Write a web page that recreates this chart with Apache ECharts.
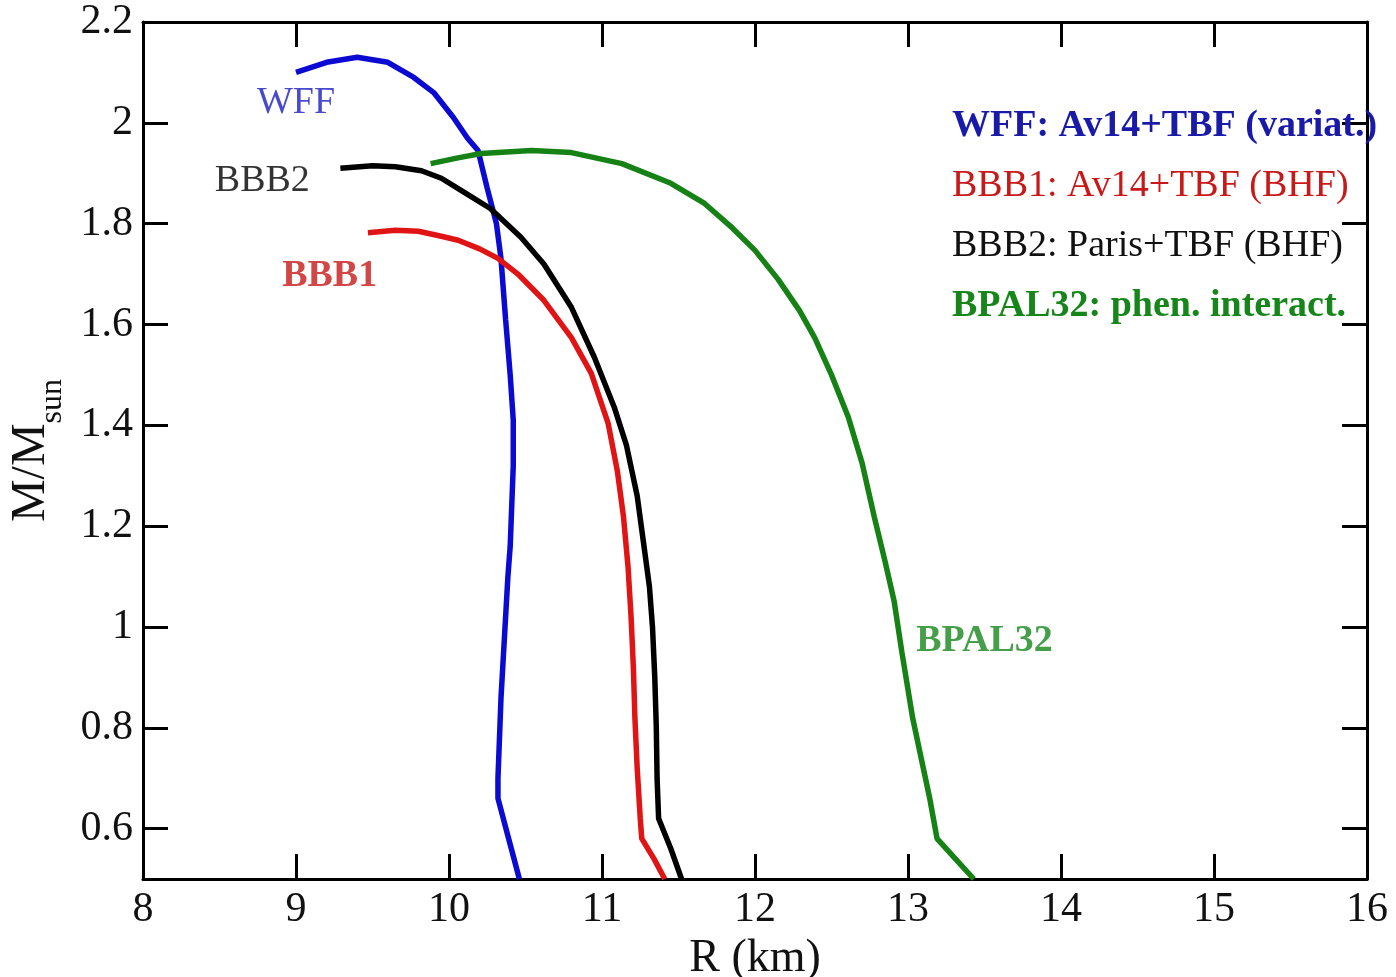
<!DOCTYPE html>
<html>
<head>
<meta charset="utf-8">
<script src="https://cdn.jsdelivr.net/npm/echarts@6/dist/echarts.min.js"></script>
<style>
  html, body { margin: 0; padding: 0; background: #fff; }
  #chart { width: 1396px; height: 977px; }
</style>
</head>
<body>
<div id="chart"></div>
<script>
// mass-radius curves, [R (km), M/Msun]
var wff = [[9.00, 2.10], [9.20, 2.12], [9.40, 2.13], [9.60, 2.12], [9.77, 2.09], [9.90, 2.06], [10.03, 2.01],
  [10.12, 1.97], [10.19, 1.945], [10.25, 1.87], [10.31, 1.80], [10.34, 1.73], [10.37, 1.61], [10.40, 1.50],
  [10.42, 1.41], [10.42, 1.32], [10.41, 1.24], [10.40, 1.16], [10.385, 1.10], [10.37, 1.02], [10.355, 0.94],
  [10.34, 0.86], [10.33, 0.78], [10.32, 0.70], [10.32, 0.66], [10.39, 0.58], [10.46, 0.50]];
var bbb1 = [[9.47, 1.782], [9.65, 1.787], [9.80, 1.785], [9.95, 1.775], [10.06, 1.767], [10.20, 1.75],
  [10.32, 1.731], [10.45, 1.70], [10.62, 1.648], [10.80, 1.574], [10.93, 1.503], [11.04, 1.404], [11.10, 1.31],
  [11.14, 1.22], [11.17, 1.12], [11.19, 1.02], [11.205, 0.92], [11.215, 0.82], [11.23, 0.72], [11.25, 0.62],
  [11.26, 0.58], [11.34, 0.54], [11.41, 0.50]];
var bbb2 = [[9.29, 1.91], [9.50, 1.915], [9.65, 1.913], [9.82, 1.905], [9.95, 1.89], [10.10, 1.862],
  [10.27, 1.83], [10.47, 1.773], [10.62, 1.72], [10.80, 1.634], [10.95, 1.535], [11.08, 1.436], [11.16, 1.36],
  [11.23, 1.26], [11.27, 1.17], [11.31, 1.08], [11.33, 1.00], [11.345, 0.90], [11.355, 0.80], [11.36, 0.70],
  [11.37, 0.62], [11.45, 0.56], [11.52, 0.50]];
var bpal32 = [[9.88, 1.919], [10.05, 1.93], [10.21, 1.939], [10.54, 1.945], [10.80, 1.941], [11.13, 1.919],
  [11.45, 1.88], [11.67, 1.84], [11.85, 1.792], [12.00, 1.747], [12.15, 1.69], [12.29, 1.628], [12.39, 1.574],
  [12.50, 1.50], [12.61, 1.416], [12.70, 1.325], [12.78, 1.218], [12.85, 1.13], [12.91, 1.05], [12.96, 0.95],
  [13.03, 0.82], [13.10, 0.72], [13.14, 0.663], [13.19, 0.58], [13.31, 0.54], [13.43, 0.50]];

var yTicks = [0.6, 0.8, 1.0, 1.2, 1.4, 1.6, 1.8, 2.0, 2.2];
var legendNames = ['WFF: Av14+TBF (variat.)', 'BBB1: Av14+TBF (BHF)', 'BBB2: Paris+TBF (BHF)', 'BPAL32: phen. interact.'];
// curve tags inside the frame: [R, M, text]
var curveTags = [[9.0, 2.04, 'WFF'], [8.78, 1.884, 'BBB2'], [9.22, 1.695, 'BBB1'], [13.5, 0.972, 'BPAL32']];

var serif = '"Liberation Serif", "Times New Roman", serif';
var blue = '#0a0ad2', red = '#e01414', black = '#000000', green = '#168216';

var myChart = echarts.init(document.getElementById('chart'));

function lineSeries(name, data, color) {
  return {
    name: name,
    type: 'line',
    data: data,
    showSymbol: false,
    symbol: 'none',
    smooth: false,
    silent: true,
    color: color,
    lineStyle: { color: color, width: 5.5 },
    animation: false
  };
}

var tagStyles = [
  { color: '#1c1cc0', fontWeight: 'normal' },
  { color: '#000000', fontWeight: 'normal' },
  { color: '#c81818', fontWeight: 'bold' },
  { color: '#17861a', fontWeight: 'bold' }
];

var axisCommon = {
  axisLine: { show: true, lineStyle: { color: '#000', width: 3 } },
  axisTick: { show: true, inside: true, length: 25, lineStyle: { color: '#000', width: 3 } },
  splitLine: { show: false }
};

var option = {
  backgroundColor: '#fff',
  animation: false,
  grid: { left: 143, right: 29, top: 22, bottom: 98, containLabel: false, outerBoundsMode: 'none' },
  legend: {
    orient: 'vertical',
    left: 942,
    top: 102,
    icon: 'none',
    itemWidth: 0,
    itemHeight: 10,
    itemGap: 22,
    selectedMode: false,
    textStyle: { fontFamily: serif, fontSize: 38 },
    data: [
      { name: legendNames[0], textStyle: { color: '#1a1aa8', fontWeight: 'bold' } },
      { name: legendNames[1], textStyle: { color: '#c81818', fontWeight: 'normal' } },
      { name: legendNames[2], textStyle: { color: '#111111', fontWeight: 'normal' } },
      { name: legendNames[3], textStyle: { color: '#17861a', fontWeight: 'bold' } }
    ]
  },
  xAxis: [
    Object.assign({}, axisCommon, {
      type: 'value', position: 'bottom', min: 8, max: 16, interval: 1,
      name: 'R (km)', nameLocation: 'middle', nameGap: 54,
      nameTextStyle: { fontFamily: serif, fontSize: 46, color: '#111' },
      axisLabel: { fontFamily: serif, fontSize: 42, color: '#111', margin: 10 }
    }),
    Object.assign({}, axisCommon, {
      type: 'value', position: 'top', min: 8, max: 16, interval: 1,
      axisLabel: { show: false }
    })
  ],
  yAxis: [
    Object.assign({}, axisCommon, {
      type: 'value', position: 'left', min: 0.5, max: 2.2,
      axisTick: { show: true, inside: true, length: 25, lineStyle: { color: '#000', width: 3 }, customValues: yTicks },
      axisLabel: {
        fontFamily: serif, fontSize: 42, color: '#111', margin: 10, customValues: yTicks,
        formatter: function (v) { return String(Math.round(v * 10) / 10); }
      },
      name: '{m|M/M}{s|sun}', nameLocation: 'middle', nameGap: 74, nameRotate: 90,
      nameTextStyle: {
        fontFamily: serif, color: '#111',
        rich: {
          m: { fontFamily: serif, fontSize: 48, color: '#111', lineHeight: 62, verticalAlign: 'top' },
          s: { fontFamily: serif, fontSize: 32, color: '#111', lineHeight: 62, verticalAlign: 'bottom' }
        }
      }
    }),
    Object.assign({}, axisCommon, {
      type: 'value', position: 'right', min: 0.5, max: 2.2,
      axisTick: { show: true, inside: true, length: 25, lineStyle: { color: '#000', width: 3 }, customValues: yTicks },
      axisLabel: { show: false }
    })
  ],
  series: [
    lineSeries(legendNames[0], wff, blue),
    lineSeries(legendNames[1], bbb1, red),
    lineSeries(legendNames[2], bbb2, black),
    lineSeries(legendNames[3], bpal32, green),
    {
      name: 'tags',
      type: 'scatter',
      symbolSize: 0,
      silent: true,
      data: curveTags.map(function (t, i) {
        return {
          value: t,
          label: {
            show: true, position: 'inside', formatter: t[2],
            fontFamily: serif, fontSize: 38,
            color: tagStyles[i].color, fontWeight: tagStyles[i].fontWeight
          }
        };
      })
    }
  ]
};

myChart.setOption(option);
window.addEventListener('resize', function () {
  myChart.resize();
});
</script>
</body>
</html>
